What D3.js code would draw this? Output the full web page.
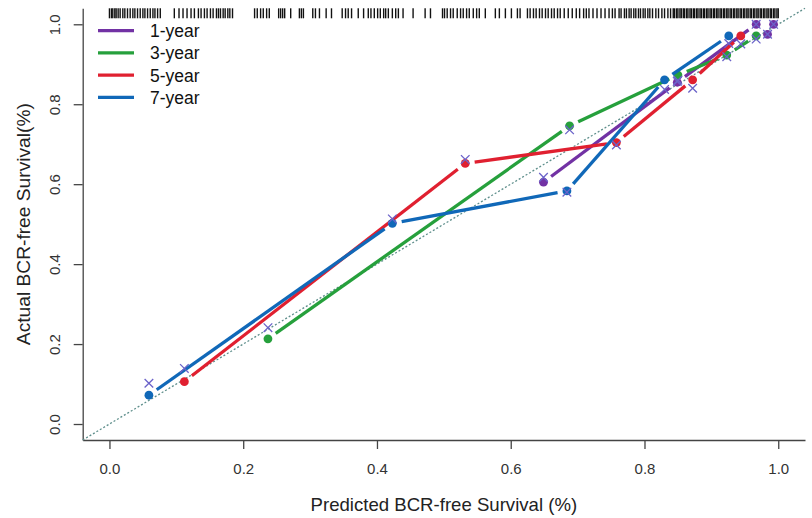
<!DOCTYPE html>
<html><head><meta charset="utf-8">
<script src="https://cdn.jsdelivr.net/npm/d3@7"></script>
<style>
html,body{margin:0;padding:0;background:#fff;}
svg{display:block;font-family:"Liberation Sans",Arial,sans-serif;}
</style></head>
<body><svg id="chart" width="812" height="518"></svg>
<script>
// ---------- data ----------
const seriesNames = ["1-year", "3-year", "5-year", "7-year"];
const xTicks = [0, 0.2, 0.4, 0.6, 0.8, 1.0];
const yTicks = [0, 0.2, 0.4, 0.6, 0.8, 1.0];
const xTitle = "Predicted BCR-free Survival (%)";
const yTitle = "Actual BCR-free Survival(%)";

const predicted1 = [0.649, 0.849, 0.967, 0.984, 0.993];
const observed1  = [0.605, 0.855, 1.000, 0.975, 1.000];
const corrected1 = [0.617, 0.857, 1.000, 0.975, 1.000];

const predicted3 = [0.237, 0.688, 0.850, 0.923, 0.967];
const observed3  = [0.213, 0.746, 0.873, 0.923, 0.971];
const corrected3 = [0.241, 0.736, 0.860, 0.919, 0.963];

const predicted5 = [0.112, 0.532, 0.758, 0.872, 0.944];
const observed5  = [0.106, 0.652, 0.704, 0.861, 0.971];
const corrected5 = [0.139, 0.662, 0.698, 0.840, 0.951];

const predicted7 = [0.059, 0.423, 0.684, 0.830, 0.926];
const observed7  = [0.072, 0.502, 0.583, 0.861, 0.971];
const corrected7 = [0.102, 0.513, 0.580, 0.837, 0.952];

const rugPredicted = [
  0.000,0.003,0.005,0.008,0.010,0.013,0.016,0.020,0.023,0.027,0.031,0.035,0.038,0.042,0.046,0.050,0.053,0.057,0.061,0.065,0.068,0.072,0.076,
  0.097,0.104,0.110,0.116,0.122,0.127,0.133,0.137,0.142,0.146,0.151,0.155,0.160,0.163,0.166,0.170,0.173,0.177,0.180,0.184,
  0.217,0.221,0.226,0.230,0.235,0.239,0.253,0.256,0.259,0.262,0.271,0.284,0.287,0.290,0.304,0.308,0.314,0.324,0.332,
  0.348,0.353,0.357,0.362,0.372,0.380,0.387,0.391,0.396,0.401,0.405,0.410,0.413,0.417,0.423,0.428,0.432,0.439,0.454,0.472,0.480,
  0.498,0.501,0.505,0.510,0.514,0.520,0.525,0.529,0.534,0.538,0.544,0.549,0.553,0.562,0.577,0.583,0.592,0.601,0.610,0.614,
  0.625,0.629,0.634,0.638,0.643,0.647,0.652,0.656,0.661,0.665,0.670,0.674,0.680,0.686,0.692,0.698,0.703,0.709,0.713,0.717,0.723,0.729,0.735,0.741,0.747,0.752,0.756,0.762,0.765,
  0.770,0.773,0.777,0.780,0.784,0.787,0.791,0.794,0.798,0.801,0.805,0.808,0.812,0.817,0.821,0.826,0.830,0.835,0.839,
  0.843,0.845,0.848,0.850,0.853,0.855,0.858,0.860,0.863,0.865,0.868,0.870,0.873,0.875,0.878,0.880,0.883,0.885,0.888,0.890,
  0.893,0.895,0.898,0.900,0.903,0.905,0.908,0.910,0.913,0.915,0.918,0.920,0.923,0.925,0.928,0.930,0.933,0.935,0.938,0.940,
  0.943,0.945,0.948,0.950,0.953,0.955,0.958,0.960,0.963,0.965,0.968,0.970,0.973,0.975,0.978,0.980,0.983,0.985,0.988,0.990,
  0.993,0.995,0.998,1.000
];

// ---------- styles ----------
const colors = ["#7232a4", "#26a03c", "#e02030", "#1068b8"];
const crossColor = "#6b63c9";

const series = [
  {name: seriesNames[0], pred: predicted1, obs: observed1, corr: corrected1, color: colors[0]},
  {name: seriesNames[1], pred: predicted3, obs: observed3, corr: corrected3, color: colors[1]},
  {name: seriesNames[2], pred: predicted5, obs: observed5, corr: corrected5, color: colors[2]},
  {name: seriesNames[3], pred: predicted7, obs: observed7, corr: corrected7, color: colors[3]}
];

const svg = d3.select("#chart");
const pLeft = 82.7, pRight = 805, pTop = 8.3, pBottom = 440;
const x = d3.scaleLinear().domain([-0.04, 1.04]).range([pLeft, pRight]);
const y = d3.scaleLinear().domain([-0.04, 1.04]).range([pBottom, pTop]);

// axes
const xAxis = svg.append("g").attr("transform", `translate(0,${pBottom})`)
  .call(d3.axisBottom(x).tickValues(xTicks).tickFormat(d3.format(".1f")).tickSize(9).tickSizeOuter(0).tickPadding(14));
xAxis.select(".domain").attr("stroke", "#444").attr("stroke-width", 1.3);
xAxis.selectAll(".tick line").attr("stroke", "#444").attr("stroke-width", 1.3);
xAxis.selectAll("text").attr("font-size", 15).attr("fill", "#333").attr("font-family", "Liberation Sans, Arial, sans-serif");

const yAxis = svg.append("g").attr("transform", `translate(${pLeft},0)`)
  .call(d3.axisLeft(y).tickValues(yTicks).tickFormat(d3.format(".1f")).tickSize(9).tickSizeOuter(0));
yAxis.select(".domain").attr("stroke", "#444").attr("stroke-width", 1.3);
yAxis.selectAll(".tick line").attr("stroke", "#444").attr("stroke-width", 1.3);
yAxis.selectAll("text")
  .attr("font-size", 15).attr("fill", "#333").attr("font-family", "Liberation Sans, Arial, sans-serif")
  .attr("text-anchor", "middle").attr("x", 0).attr("y", -22.3).attr("dy", null)
  .attr("transform", "rotate(-90)");

// titles
svg.append("text").attr("x", (pLeft + pRight) / 2).attr("y", 511)
  .attr("text-anchor", "middle").attr("font-size", 18.6).attr("fill", "#222").text(xTitle);
svg.append("text").attr("transform", `translate(29.5,${(pTop + pBottom) / 2}) rotate(-90)`)
  .attr("text-anchor", "middle").attr("font-size", 19.2).attr("fill", "#222").text(yTitle);

// rug at top
svg.append("g").selectAll("line").data(rugPredicted).join("line")
  .attr("x1", d => x(d)).attr("x2", d => x(d))
  .attr("y1", pTop).attr("y2", pTop + 10)
  .attr("stroke", "#111").attr("stroke-width", 1.4);

// diagonal reference
svg.append("line")
  .attr("x1", x(x.domain()[0])).attr("y1", y(y.domain()[0]))
  .attr("x2", x(x.domain()[1])).attr("y2", y(y.domain()[1]))
  .attr("stroke", "#5f8f8c").attr("stroke-width", 1.3).attr("stroke-dasharray", "2,2");

// series lines (type "b": gaps around points)
const gap = 9.5;
series.forEach(s => {
  const pts = s.pred.map((p, i) => [x(p), y(s.obs[i])]);
  const g = svg.append("g");
  for (let i = 0; i < pts.length - 1; i++) {
    const [x0, y0] = pts[i], [x1, y1] = pts[i + 1];
    const len = Math.hypot(x1 - x0, y1 - y0);
    if (len <= 2 * gap) continue;
    const ux = (x1 - x0) / len, uy = (y1 - y0) / len;
    g.append("line")
      .attr("x1", x0 + ux * gap).attr("y1", y0 + uy * gap)
      .attr("x2", x1 - ux * gap).attr("y2", y1 - uy * gap)
      .attr("stroke", s.color).attr("stroke-width", 3.3).attr("stroke-linecap", "butt");
  }
  g.selectAll("circle").data(s.pred).join("circle")
    .attr("cx", d => x(d)).attr("cy", (d, i) => y(s.obs[i])).attr("r", 4.4)
    .attr("fill", s.color);
});

// bias-corrected crosses
series.forEach(s => {
  const g = svg.append("g");
  s.pred.forEach((p, i) => {
    const cx = x(p), cy = y(s.corr[i]), h = 4.3;
    g.append("path")
      .attr("d", `M${cx - h},${cy - h}L${cx + h},${cy + h}M${cx - h},${cy + h}L${cx + h},${cy - h}`)
      .attr("stroke", crossColor).attr("stroke-width", 1.3).attr("fill", "none");
  });
});

// legend
const legend = svg.append("g");
series.forEach((s, i) => {
  const ly = 30.7 + i * 22.2;
  legend.append("line").attr("x1", 98).attr("x2", 134).attr("y1", ly).attr("y2", ly)
    .attr("stroke", s.color).attr("stroke-width", 3.3);
  legend.append("text").attr("x", 150).attr("y", ly + 6.5).attr("font-size", 17.5)
    .attr("fill", "#111").text(s.name);
});
</script></body></html>
